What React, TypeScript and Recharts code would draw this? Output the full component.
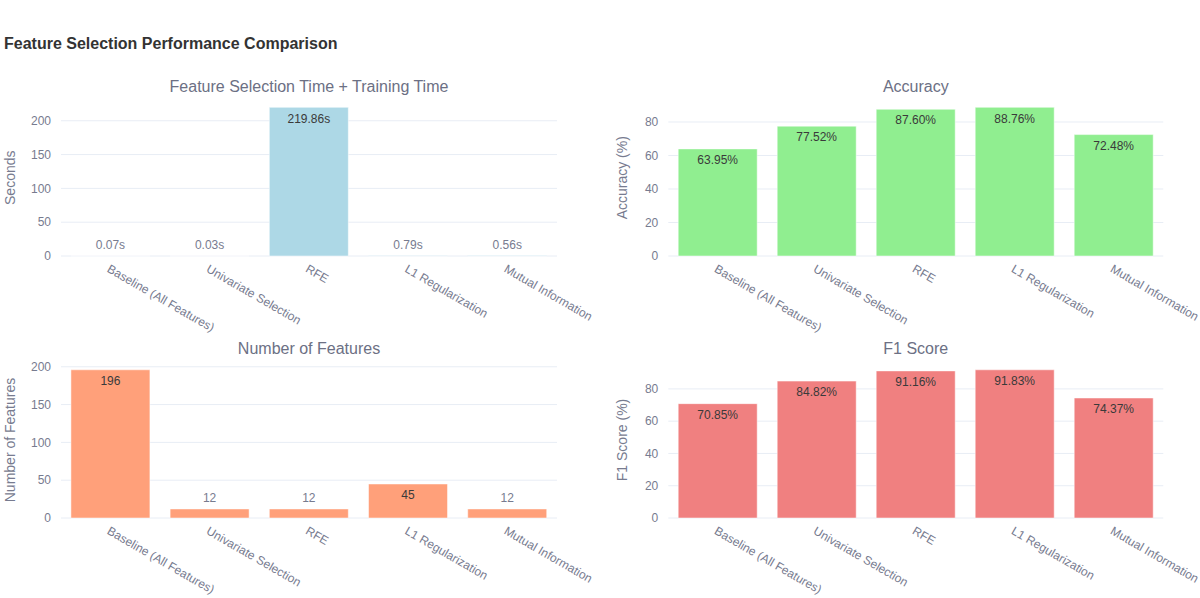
import { Bar, BarChart, CartesianGrid, LabelList, XAxis, YAxis } from "recharts";

const methods = [
  "Baseline (All Features)",
  "Univariate Selection",
  "RFE",
  "L1 Regularization",
  "Mutual Information",
];
const timeSeconds = [0.07, 0.03, 219.86, 0.79, 0.56];
const accuracyPct = [63.95, 77.52, 87.6, 88.76, 72.48];
const featureCounts = [196, 12, 12, 45, 12];
const f1Pct = [70.85, 84.82, 91.16, 91.83, 74.37];

const countTicks = [0, 50, 100, 150, 200];
const pctTicks = [0, 20, 40, 60, 80];

const FONT = '"Liberation Sans", Arial, sans-serif';
const MUTED = "#777b8f";
const GRID = "#e8edf5";

function AngledTick({ x, y, payload }: any) {
  return (
    <text
      x={x}
      y={y}
      dy="0.71em"
      transform={`rotate(30 ${x} ${y})`}
      textAnchor="start"
      fontSize={12}
      fontFamily={FONT}
      fill={MUTED}
    >
      {payload.value}
    </text>
  );
}

// plotly "auto" text: inside near the top when it fits, else just above the bar
function valueLabel(fmt: (v: number) => string) {
  return (props: any) => {
    const { x, y, width, height, value } = props;
    const inside = height > 22;
    return (
      <text
        x={x + width / 2}
        y={inside ? y + 11 : y - 11}
        dy="0.35em"
        textAnchor="middle"
        fontSize={12}
        fontFamily={FONT}
        fill={inside ? "#3a3a3a" : MUTED}
      >
        {fmt(value)}
      </text>
    );
  };
}

type PanelProps = {
  title: string;
  yLabel: string;
  values: number[];
  color: string;
  ticks: number[];
  fmt: (v: number) => string;
  left: number;
  top: number;
  height: number;
  margin: { top: number; right: number; bottom: number; left: number };
  labelOffset: number;
  titleY: number;
};

function Panel(p: PanelProps) {
  const data = methods.map((m, i) => ({ method: m, value: p.values[i] }));
  const yMax = Math.max(...p.values) * 1.0526;
  const plotLeft = p.left + p.margin.left + 50;
  const plotRight = p.left + 600 - p.margin.right;
  const cx = (plotLeft + plotRight) / 2;
  return (
    <>
      <div
        style={{
          position: "absolute",
          left: cx - 300,
          width: 600,
          top: p.titleY - 10,
          lineHeight: "20px",
          textAlign: "center",
          fontFamily: FONT,
          fontSize: 16,
          color: "#6c7084",
        }}
      >
        {p.title}
      </div>
      <div style={{ position: "absolute", left: p.left, top: p.top }}>
        <BarChart
          width={600}
          height={p.height}
          data={data}
          margin={p.margin}
          barCategoryGap="10%"
        >
          <CartesianGrid
            vertical={false}
            stroke={GRID}
            horizontalValues={p.ticks}
          />
          <XAxis
            dataKey="method"
            interval={0}
            tickLine={false}
            axisLine={false}
            height={80}
            tick={<AngledTick />}
          />
          <YAxis
            type="number"
            width={50}
            domain={[0, yMax]}
            ticks={p.ticks}
            tickLine={false}
            axisLine={false}
            tickMargin={4}
            tick={{ fontSize: 12, fill: MUTED, fontFamily: FONT }}
            label={{
              value: p.yLabel,
              angle: -90,
              position: "insideLeft",
              offset: p.labelOffset,
              fontSize: 14,
              fill: MUTED,
              fontFamily: FONT,
              style: { textAnchor: "middle" },
            }}
          />
          <Bar
            dataKey="value"
            fill={p.color}
            stroke="#ffffff"
            strokeWidth={0.5}
            isAnimationActive={false}
          >
            <LabelList dataKey="value" content={valueLabel(p.fmt)} />
          </Bar>
        </BarChart>
      </div>
    </>
  );
}

export default function App() {
  return (
    <div
      style={{
        position: "absolute",
        left: 0,
        top: 0,
        width: 1200,
        height: 598,
        background: "#fff",
        overflow: "hidden",
        fontFamily: FONT,
      }}
    >
      <div
        style={{
          position: "absolute",
          left: 4,
          top: 35,
          lineHeight: "18px",
          fontSize: 16,
          fontWeight: "bold",
          color: "#333",
        }}
      >
        Feature Selection Performance Comparison
      </div>
      <Panel
        title="Feature Selection Time + Training Time"
        yLabel="Seconds"
        values={timeSeconds}
        color="#add8e6"
        ticks={countTicks}
        fmt={(v) => `${v.toFixed(2)}s`}
        left={0}
        top={60}
        height={280}
        margin={{ top: 39.5, right: 43, bottom: 4, left: 11 }}
        labelOffset={-1}
        titleY={87}
      />
      <Panel
        title="Accuracy"
        yLabel="Accuracy (%)"
        values={accuracyPct}
        color="#90ee90"
        ticks={pctTicks}
        fmt={(v) => `${v.toFixed(2)}%`}
        left={600}
        top={60}
        height={280}
        margin={{ top: 39.5, right: 36.7, bottom: 4, left: 18.3 }}
        labelOffset={4}
        titleY={87}
      />
      <Panel
        title="Number of Features"
        yLabel="Number of Features"
        values={featureCounts}
        color="#ffa07a"
        ticks={countTicks}
        fmt={(v) => `${v}`}
        left={0}
        top={322}
        height={276}
        margin={{ top: 40, right: 43, bottom: 0, left: 11 }}
        labelOffset={-1}
        titleY={349}
      />
      <Panel
        title="F1 Score"
        yLabel="F1 Score (%)"
        values={f1Pct}
        color="#f08080"
        ticks={pctTicks}
        fmt={(v) => `${v.toFixed(2)}%`}
        left={600}
        top={322}
        height={276}
        margin={{ top: 40, right: 36.7, bottom: 0, left: 18.3 }}
        labelOffset={4}
        titleY={349}
      />
    </div>
  );
}
